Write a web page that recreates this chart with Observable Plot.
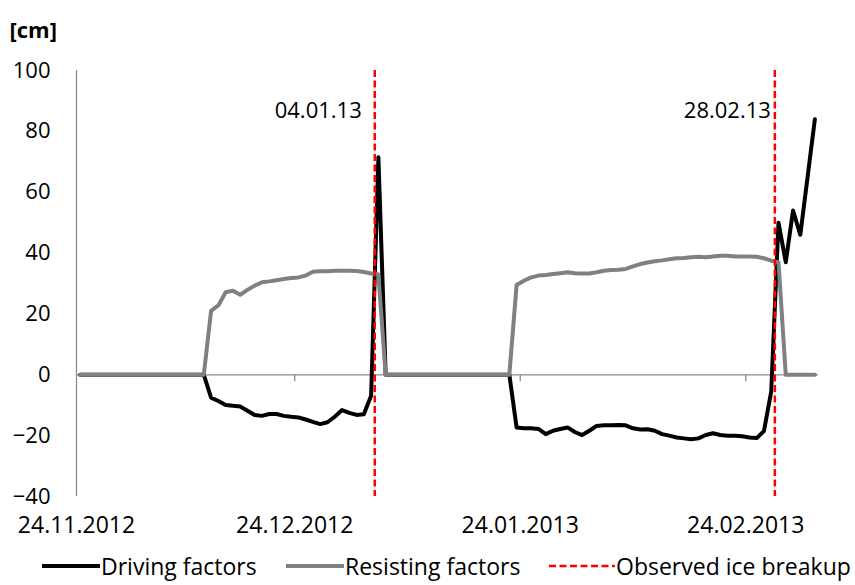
<!DOCTYPE html>
<html>
<head>
<meta charset="utf-8">
<script src="https://cdn.jsdelivr.net/npm/d3@7"></script>
<script src="https://cdn.jsdelivr.net/npm/@observablehq/plot@0.6"></script>
<style>
  html, body { margin: 0; padding: 0; background: #fff; }
  body { width: 855px; height: 585px; overflow: hidden; font-family: "Open Sans", sans-serif; }
  #legend { position: relative; height: 35px; font-size: 23px; color: #000; }
  .item { position: absolute; top: -2px; height: 35px; display: flex; align-items: center; white-space: nowrap; }
  .item svg { display: block; margin-right: 1px; }
</style>
</head>
<body>
<div id="chart"></div>
<div id="legend"></div>
<script>
// ---- Data (daily values, first day 24.11.2012, last day 05.03.2013) ----
const firstDay = "2012-11-24";
const drivingFactors = [
  0,0,0,0,0,0,0,0,0,0,0,0,0,0,0,0,0,0,
  -7.5,-8.6,-9.9,-10.2,-10.4,-11.8,-13.2,-13.5,-12.9,-12.9,-13.5,-13.8,
  -14.0,-14.7,-15.5,-16.2,-15.6,-13.8,-11.6,-12.5,-13.2,-13.0,-6.9,71.5,
  0,0,0,0,0,0,0,0,0,0,0,0,0,0,0,0,0,0,
  -17.3,-17.6,-17.6,-17.8,-19.5,-18.4,-17.8,-17.3,-18.8,-19.8,-18.4,-16.8,
  -16.6,-16.6,-16.5,-16.6,-17.6,-18.0,-17.9,-18.4,-19.5,-20.0,-20.6,-20.9,
  -21.2,-20.9,-19.8,-19.2,-19.8,-20.0,-20.0,-20.2,-20.6,-20.8,-18.5,-5.5,
  50,37,54,46,65,84
];
const resistingFactors = [
  0,0,0,0,0,0,0,0,0,0,0,0,0,0,0,0,0,0,
  21.0,22.8,27.1,27.6,26.3,27.9,29.3,30.4,30.7,31.1,31.5,31.8,
  32.0,32.6,33.9,34.0,34.0,34.2,34.2,34.2,34.1,33.8,33.3,33.0,
  0,0,0,0,0,0,0,0,0,0,0,0,0,0,0,0,0,0,
  29.5,30.9,32.0,32.6,32.8,33.1,33.4,33.7,33.4,33.3,33.3,33.7,
  34.2,34.4,34.5,34.8,35.6,36.4,36.9,37.3,37.6,38.0,38.3,38.4,
  38.6,38.8,38.6,38.9,39.1,39.1,38.9,38.9,38.9,38.8,38.3,37.5,
  37,0,0,0,0,0
];
const breakupDates = ["2013-01-04", "2013-02-28"];
const breakupLabels = ["04.01.13", "28.02.13"];
const xTickDates = ["2012-11-24", "2012-12-24", "2013-01-24", "2013-02-24"];
const xTickLabels = ["24.11.2012", "24.12.2012", "24.01.2013", "24.02.2013"];
const yTicks = [-40, -20, 0, 20, 40, 60, 80, 100];
const xDomain = ["2012-11-24", "2013-03-06"];
const seriesNames = ["Driving factors", "Resisting factors", "Observed ice breakup"];
const unitLabel = "[cm]";

// ---- Build table ----
const DAY = 864e5;
const t0 = new Date(firstDay + "T00:00:00Z").getTime();
const rows = drivingFactors.map((v, i) => ({
  date: new Date(t0 + (i + 0.5) * DAY),
  driving: v,
  resisting: resistingFactors[i]
}));
const toDate = s => new Date(s + "T00:00:00Z");
const tickDates = xTickDates.map(toDate);
const breaks = breakupDates.map((s, i) => ({date: toDate(s), label: breakupLabels[i]}));

const axisGray = "#8c8c8c";
const FONT = 22;

const chart = Plot.plot({
  width: 855,
  height: 550,
  marginLeft: 76,
  marginRight: 37,
  marginTop: 70,
  marginBottom: 54,
  style: {fontFamily: "'Open Sans', sans-serif", fontSize: FONT + "px", color: "#000", background: "#fff", overflow: "visible"},
  x: {type: "utc", domain: xDomain.map(toDate)},
  y: {domain: [-40, 100]},
  marks: [
    // axes lines
    Plot.ruleX([toDate(xDomain[0])], {stroke: axisGray, strokeWidth: 1.3}),
    Plot.ruleY([0], {stroke: axisGray, strokeWidth: 1.3}),
    Plot.ruleX(tickDates.slice(1), {x: d => d, y1: 0, y2: 0, insetBottom: -7, stroke: axisGray, strokeWidth: 1.3}),
    Plot.axisY({ticks: yTicks, tickSize: 0, tickPadding: 26, label: null, fontSize: FONT}),
    Plot.axisX({ticks: tickDates, tickFormat: (d, i) => xTickLabels[i], tickSize: 0, tickPadding: 20, label: null, fontSize: 23}),
    // series
    Plot.line(rows, {x: "date", y: "driving", stroke: "#000", strokeWidth: 4, strokeLinejoin: "round"}),
    Plot.line(rows, {x: "date", y: "resisting", stroke: "#808080", strokeWidth: 4, strokeLinejoin: "round"}),
    // observed breakup
    Plot.ruleX(breaks, {x: "date", stroke: "#ff0000", strokeWidth: 2.5, strokeDasharray: "7,3.5"}),
    Plot.text(breaks.slice(0, 1), {x: "date", text: "label", frameAnchor: "top", dy: 32, dx: -13, textAnchor: "end", fontSize: FONT, fill: "#000"}),
    Plot.text(breaks.slice(1), {x: "date", text: "label", frameAnchor: "top", dy: 32, dx: -4, textAnchor: "end", fontSize: FONT, fill: "#000"}),
    // unit label
    Plot.text([unitLabel], {frameAnchor: "top-left", dx: -67, dy: -48, textAnchor: "start", fontWeight: "bold", fontSize: FONT, fill: "#000"})
  ]
});
document.getElementById("chart").appendChild(chart);

// ---- Legend ----
const legend = document.getElementById("legend");
const items = [
  {name: seriesNames[0], stroke: "#000", dash: null, left: 42, w: 58},
  {name: seriesNames[1], stroke: "#808080", dash: null, left: 286, w: 58},
  {name: seriesNames[2], stroke: "#ff0000", dash: "7,3.5", left: 549, w: 66}
];
for (const it of items) {
  const div = document.createElement("div");
  div.className = "item";
  div.style.left = it.left + "px";
  const ns = "http://www.w3.org/2000/svg";
  const svg = document.createElementNS(ns, "svg");
  svg.setAttribute("width", it.w);
  svg.setAttribute("height", 10);
  const ln = document.createElementNS(ns, "line");
  ln.setAttribute("x1", 0); ln.setAttribute("x2", it.w);
  ln.setAttribute("y1", 5); ln.setAttribute("y2", 5);
  ln.setAttribute("stroke", it.stroke);
  ln.setAttribute("stroke-width", it.dash ? 2.5 : 4);
  if (it.dash) ln.setAttribute("stroke-dasharray", it.dash);
  svg.appendChild(ln);
  div.appendChild(svg);
  const span = document.createElement("span");
  span.textContent = it.name;
  div.appendChild(span);
  legend.appendChild(div);
}
</script>
</body>
</html>
